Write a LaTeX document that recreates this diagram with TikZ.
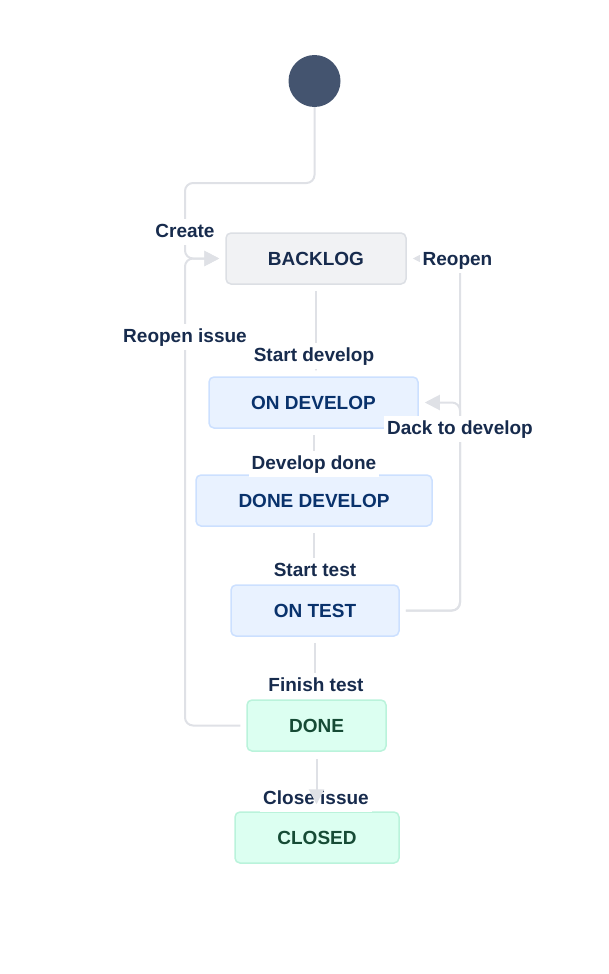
\documentclass[tikz,border=0pt]{standalone}
\usepackage{fontspec}
\setmainfont{Liberation Sans}
\usetikzlibrary{arrows.meta}
\definecolor{edgec}{HTML}{DFE1E6}
\definecolor{startc}{HTML}{44546F}
\definecolor{grayfill}{HTML}{F1F2F4}
\definecolor{grayline}{HTML}{DCDFE4}
\definecolor{graytext}{HTML}{172B4D}
\definecolor{bluefill}{HTML}{E9F2FF}
\definecolor{blueline}{HTML}{CCE0FF}
\definecolor{bluetext}{HTML}{09326C}
\definecolor{greenfill}{HTML}{DCFFF1}
\definecolor{greenline}{HTML}{BAF3DB}
\definecolor{greentext}{HTML}{164B35}
\definecolor{labc}{HTML}{172B4D}
\begin{document}
\begin{tikzpicture}[x=1pt,y=-1pt,
  state/.style={rectangle, rounded corners=5pt, line width=1.5pt, minimum height=51pt, inner sep=0pt,
    font=\bfseries\fontsize{19}{22}\selectfont},
  graystate/.style={state, fill=grayfill, draw=grayline, text=graytext},
  bluestate/.style={state, fill=bluefill, draw=blueline, text=bluetext},
  greenstate/.style={state, fill=greenfill, draw=greenline, text=greentext},
  conn/.style={draw=edgec, line width=2pt, rounded corners=8pt,
    -{Triangle[length=15pt,width=15pt]}},
  lab/.style={fill=white, text=labc, font=\bfseries\fontsize{19}{22}\selectfont,
    inner xsep=3pt, inner ysep=4pt, text height=14pt, text depth=4pt}]
\useasboundingbox (0,0) rectangle (609,974);

% nodes
\node[circle, fill=startc, minimum size=52pt, inner sep=0pt] (start) at (314.5,81) {};
\node[graystate, minimum width=180pt] (backlog) at (316,258.5) {BACKLOG};
\node[bluestate, minimum width=209pt] (ondev) at (313.5,402.5) {ON DEVELOP};
\node[bluestate, minimum width=236pt] (donedev) at (314,500.5) {DONE DEVELOP};
\node[bluestate, minimum width=168pt] (ontest) at (315,610.5) {ON TEST};
\node[greenstate, minimum width=139pt] (done) at (316.5,725.5) {DONE};
\node[greenstate, minimum width=164pt] (closed) at (317,837.5) {CLOSED};

\coordinate (cA) at (314.5,183);
\coordinate (cB) at (185,183);
\coordinate (cC) at (185,258.5);
\coordinate (cD) at (185,725.5);
\coordinate (cE) at (460,610.5);
\coordinate (cF) at (460,258.5);
\coordinate (cG) at (460,402.5);

% connectors
\draw[conn, shorten >=6pt] (start.south) -- (cA) -- (cB) -- (cC) -- (backlog.west);
\draw[conn, shorten <=6pt, shorten >=6pt] (done.west) -- (cD) -- (cC) -- (backlog.west);
\draw[conn, shorten <=6pt, shorten >=6pt] (ontest.east) -- (cE) -- (cF) -- (backlog.east);
\draw[conn, shorten <=6pt, shorten >=6pt] (ontest.east) -- (cE) -- (cG) -- (ondev.east);
\draw[conn, shorten <=6pt, shorten >=5pt] (backlog.south) -- (backlog.south |- ondev.north);
\draw[conn, shorten <=6pt, shorten >=6pt] (ondev.south) -- (ondev.south |- donedev.north);
\draw[conn, shorten <=6pt, shorten >=6pt] (donedev.south) -- (donedev.south |- ontest.north);
\draw[conn, shorten <=6pt, shorten >=6pt] (ontest.south) -- (ontest.south |- done.north);

% labels
\node[lab] (lCreate) at (185,232) {Create};
\node[lab] (lReopenIssue) at (185,337) {Reopen issue};
\node[lab] (lStartDev) at (314,356) {Start develop};
\node[lab] (lDevDone) at (314,464) {Develop done};
\node[lab] (lStartTest) at (315,571) {Start test};
\node[lab] (lFinish) at (316,686) {Finish test};
\node[lab] (lClose) at (316,799) {Close issue};
\node[lab] (lReopen) at (457.5,260) {Reopen};
\node[lab] (lDack) at (460,429) {Dack to develop};

% last connector drawn over its label
\draw[conn, shorten <=7pt, shorten >=7pt] (done.south) -- (done.south |- closed.north);
\end{tikzpicture}
\end{document}
